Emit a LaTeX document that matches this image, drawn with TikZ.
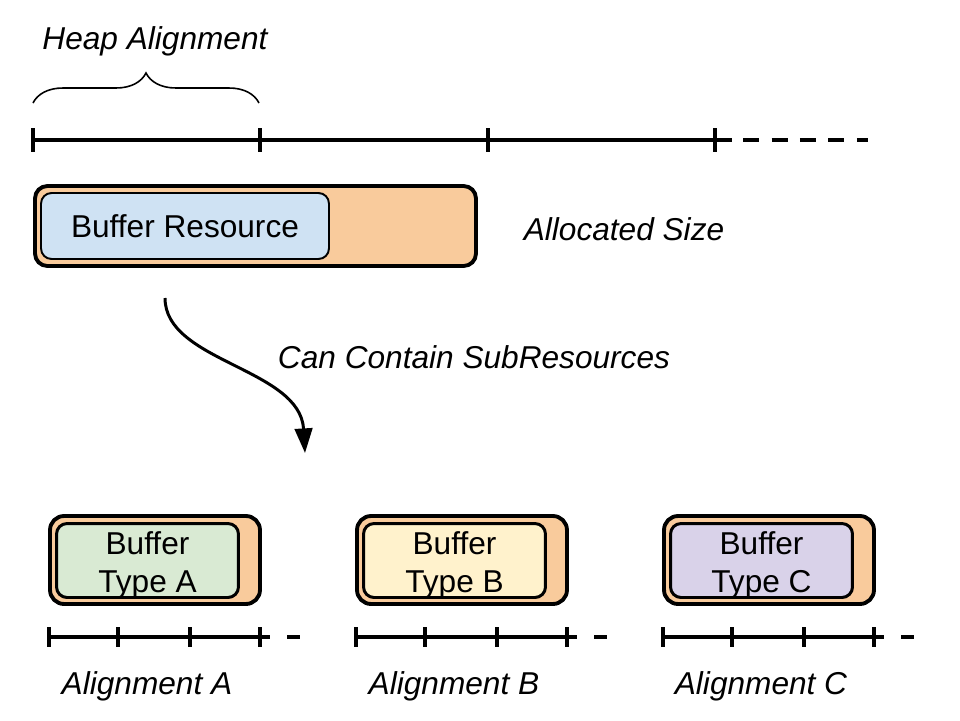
\documentclass[tikz,border=0pt]{standalone}
\usepackage{fontspec}
\setmainfont{Liberation Sans}
\usetikzlibrary{arrows.meta,decorations.pathreplacing}
\definecolor{heap}{HTML}{F9CB9C}
\definecolor{resblue}{HTML}{CFE2F3}
\definecolor{resgreen}{HTML}{D9EAD3}
\definecolor{resyellow}{HTML}{FFF2CC}
\definecolor{respurple}{HTML}{D9D2E9}
\begin{document}
\begin{tikzpicture}[x=0.02cm,y=-0.02cm]
	\useasboundingbox (0,0) rectangle (960,720);
	\tikzstyle{heapbox}=[draw=black, fill=heap, line width=2.2pt, rounded corners=7pt, inner sep=0pt]
	\tikzstyle{resbox}=[draw=black, rounded corners=6pt, inner sep=0pt, align=center, font=\fontsize{18}{21.5}\selectfont]
	\tikzstyle{boxtext}=[inner sep=0pt, align=center, font=\fontsize{18}{21.5}\selectfont]
	\tikzstyle{note}=[font=\fontsize{18}{21.5}\selectfont\itshape, anchor=base, inner sep=0pt]
	\tikzstyle{ruler}=[line width=2pt]
	\tikzstyle{tickmark}=[line width=2.4pt]

	% heap alignment
	\node[note] (HA) at (155,50) {Heap Alignment};
	\coordinate (b0) at (33,103);
	\coordinate (b1) at (259,103);
	\draw[line width=0.9pt, decorate, decoration={brace, amplitude=0.6cm}] (b0) -- (b1);

	\draw[ruler] (33,140) -- (732,140);
	\draw[ruler, dash pattern=on 0.32cm off 0.25cm] (743,140) -- (868,140);
	\foreach \x in {33,260,488,715}
		\draw[tickmark] (\x,128) -- (\x,152);

	% buffer resource
	\node[heapbox, minimum width=8.82cm, minimum height=1.6cm] (H) at (255.5,226) {};
	\node[resbox, fill=resblue, line width=1.1pt, minimum width=5.76cm, minimum height=1.32cm] (R) at (185,226) {Buffer Resource};
	\node[note] (AS) at (624,240) {Allocated Size};

	\coordinate (s) at (165,298);
	\coordinate (t) at (305,453);
	\draw[-{Triangle[length=14pt,width=10pt]}, line width=1.7pt] (s) .. controls (165,362) and (300,368) .. (t);
	\node[note] (CC) at (474,368) {Can Contain SubResources};

	% sub resources
	\foreach \i/\l/\c in {0/A/resgreen, 307/B/resyellow, 614/C/respurple} {
		\node[heapbox, rounded corners=8pt, minimum width=4.2cm, minimum height=1.76cm] (H\l) at (155+\i,560) {};
		\node[resbox, fill=\c, line width=1.7pt, minimum width=3.64cm, minimum height=1.48cm] (T\l) at (147.5+\i,560.5) {};
		\node[boxtext] (W\l) at (147.5+\i,565) {Buffer\\Type \l};
		\draw[ruler] (49+\i,637) -- (270+\i,637);
		\draw[ruler] (287+\i,637) -- (300+\i,637);
		\foreach \x in {49,118,190,260}
			\draw[tickmark] (\x+\i,627) -- (\x+\i,647);
		\node[note] (L\l) at (147+\i,694) {Alignment \l};
	}
\end{tikzpicture}
\end{document}
